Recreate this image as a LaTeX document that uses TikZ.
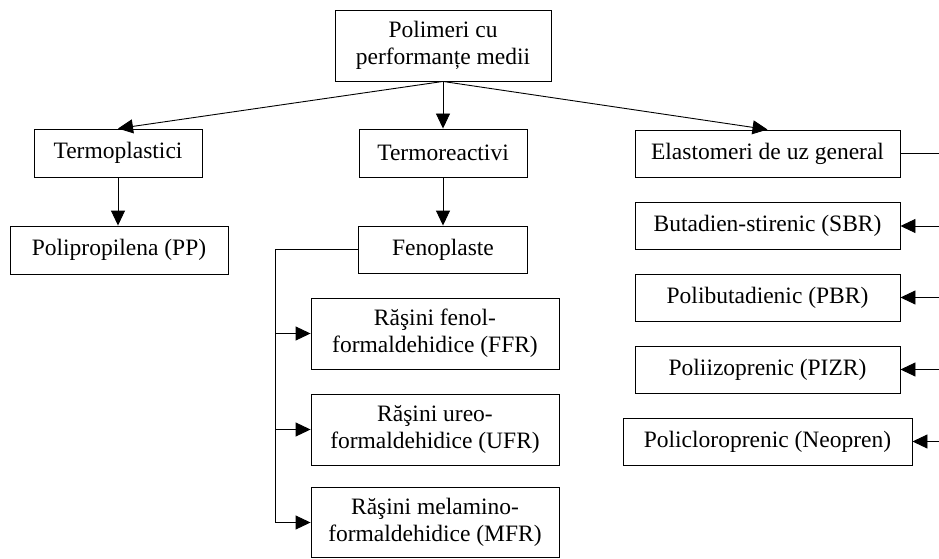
\documentclass[tikz,border=0pt]{standalone}
\usepackage{fontspec}
\setmainfont{Liberation Serif}
\usetikzlibrary{arrows.meta}

\begin{document}
\begin{tikzpicture}[x=1pt, y=-1pt, line width=0.9pt,
    box/.style={draw, inner sep=0pt, minimum height=47pt, align=center,
                font=\fontsize{23.5}{27}\selectfont},
    arr/.style={-{Triangle[length=15pt,width=14pt]}}]

    % page size of the reference, anything outside is cut away
    \useasboundingbox (0,0) rectangle (939,559);
    \clip (0,0) rectangle (939,559);

    % top level
    \node[box, minimum width=216pt, minimum height=71pt] (top) at (443,45.5)
        {Polimeri cu\\performanțe medii};

    % second row
    \node[box, minimum width=168pt, minimum height=48pt] (termopl) at (118,153) {Termoplastici};
    \node[box, minimum width=168pt, minimum height=48pt] (termore) at (443,153) {Termoreactivi};
    \node[box, minimum width=265pt] (elast) at (767.5,153.5) {Elastomeri de uz general};

    % third row
    \node[box, minimum width=218pt, minimum height=48pt] (pp) at (119,250) {Polipropilena (PP)};
    \node[box, minimum width=169pt] (feno) at (443,249.5) {Fenoplaste};

    % resins under Fenoplaste
    \node[box, minimum width=248pt, minimum height=71pt] (ffr) at (435,333.5)
        {Răşini fenol-\\formaldehidice (FFR)};
    \node[box, minimum width=248pt, minimum height=71pt] (ufr) at (435,429.5)
        {Răşini ureo-\\formaldehidice (UFR)};
    \node[box, minimum width=248pt, minimum height=70pt] (mfr) at (435,522.5)
        {Răşini melamino-\\formaldehidice (MFR)};

    % elastomers column
    \node[box, minimum width=265pt] (sbr) at (767.5,226) {Butadien-stirenic (SBR)};
    \node[box, minimum width=265pt] (pbr) at (767.5,297.5) {Polibutadienic (PBR)};
    \node[box, minimum width=265pt] (pizr) at (767.5,369.5) {Poliizoprenic (PIZR)};
    \node[box, minimum width=289pt] (neo) at (767.5,441.5) {Policloroprenic (Neopren)};

    % bus lines
    \coordinate (lbus) at (275,249.5);
    \coordinate (rbus) at (952,153.5);

    % connectors
    \draw[arr] (top.south) -- (termopl.north);
    \draw[arr] (top.south) -- (termore.north);
    \draw[arr] (top.south) -- (elast.north);
    \draw[arr] (termopl.south) -- (termopl.south |- pp.north);
    \draw[arr] (termore.south) -- (feno.north);

    \draw (feno.west) -- (lbus) -- (lbus |- mfr.west);
    \foreach \n in {ffr, ufr, mfr}
        \draw[arr] (lbus |- \n.west) -- (\n.west);

    \draw (elast.east) -- (rbus) -- (rbus |- neo.east);
    \foreach \n in {sbr, pbr, pizr, neo}
        \draw[arr] (rbus |- \n.east) -- (\n.east);
\end{tikzpicture}
\end{document}
